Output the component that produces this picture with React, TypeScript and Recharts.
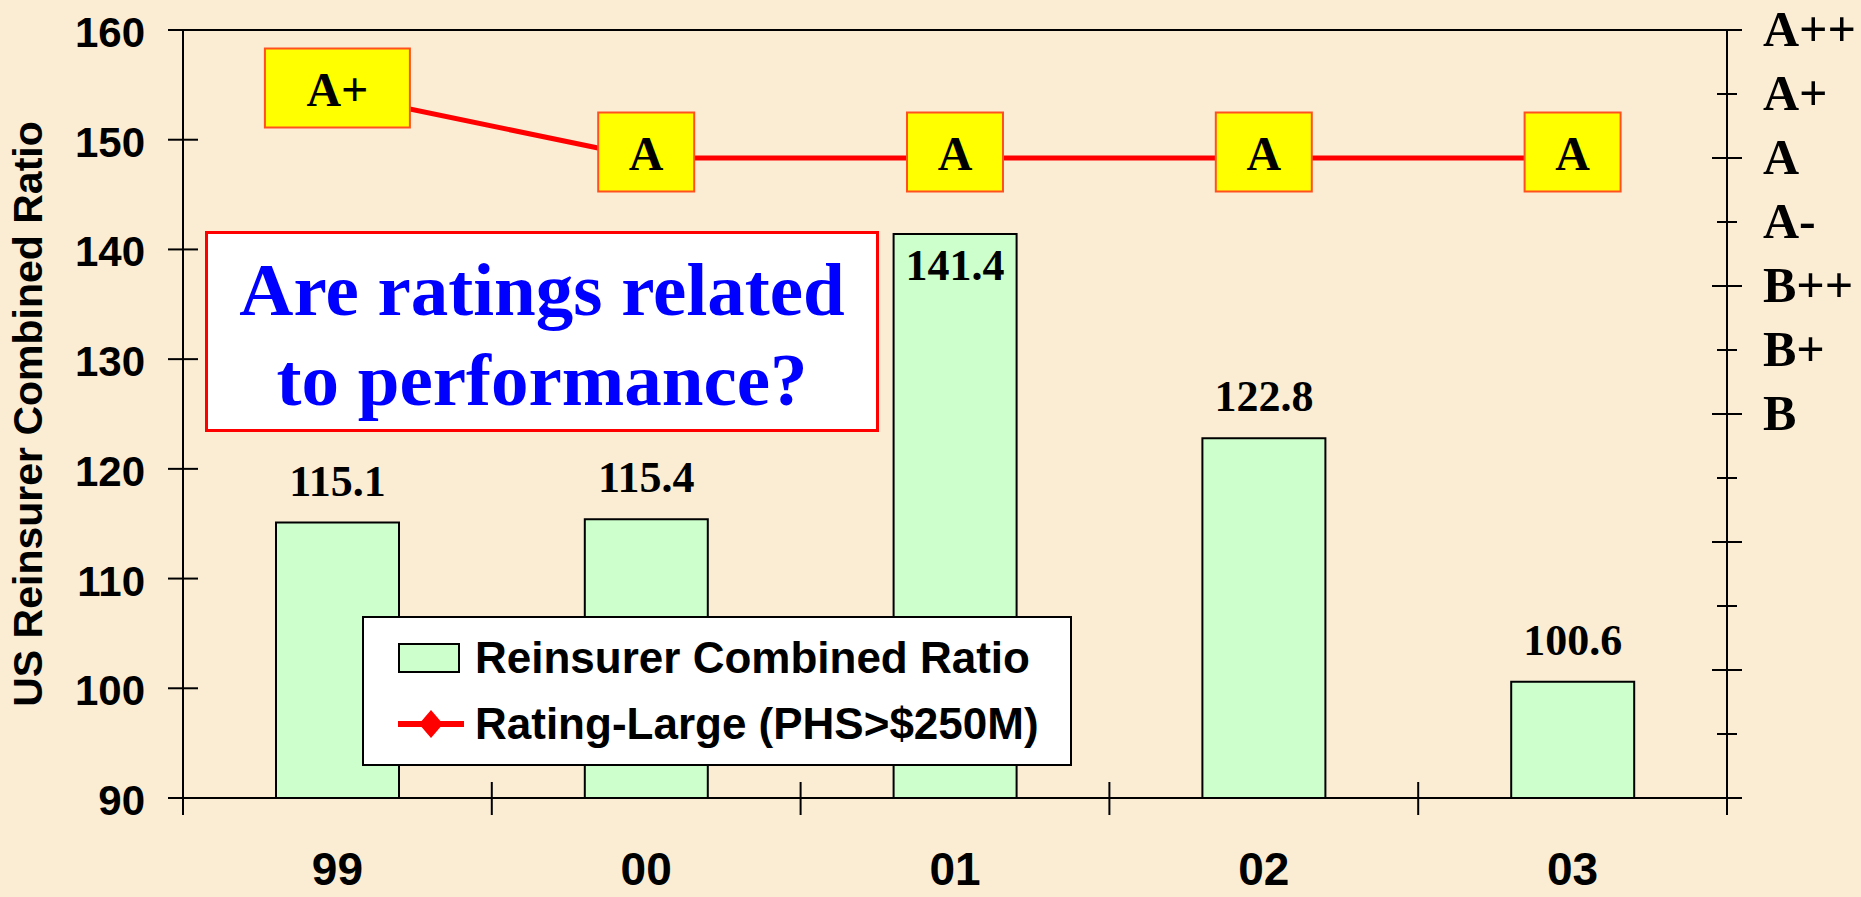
import React from 'react';
import { ComposedChart, Bar, Line, XAxis, YAxis, LabelList, Legend, ReferenceLine } from 'recharts';

// ---- data ----
const years = ['99', '00', '01', '02', '03'];
const combinedRatio = [115.1, 115.4, 141.4, 122.8, 100.6];
const ratings = ['A+', 'A', 'A', 'A', 'A'];
const ratingScale = ['', '', '', '', '', '', 'B', 'B+', 'B++', 'A-', 'A', 'A+', 'A++'];
const leftTicks = [90, 100, 110, 120, 130, 140, 150, 160];
const rightTicks = ratingScale.map((_, i) => i);
const barName = 'Reinsurer Combined Ratio';
const lineName = 'Rating-Large (PHS>$250M)';
const yTitle = 'US Reinsurer Combined Ratio';
const calloutLines = ['Are ratings related', 'to performance?'];

const data = years.map((year, i) => ({
  year,
  ratio: combinedRatio[i],
  rating: ratingScale.indexOf(ratings[i]),
}));

// ---- layout / style ----
const W = 1861;
const H = 897;
const LEFT_W = 183;
const RIGHT_W = 134;
const TOP = 30;
const X_H = 99;
const BAND = (W - LEFT_W - RIGHT_W) / years.length;
const SANS = '"Liberation Sans", Arial, sans-serif';
const SERIF = '"Liberation Serif", "Times New Roman", serif';
const BG = '#FAEDD4';
const BAR_FILL = '#CCFFCC';
const LINE_RED = '#FF0000';

const LeftTick = (p: any) => {
  const { x, y, payload } = p;
  return (
    <g>
      <line x1={x - 15} x2={x + 15} y1={y} y2={y} stroke="#000" strokeWidth={2} />
      <text x={x - 38} y={y + 17} textAnchor="end" fontFamily={SANS} fontWeight="bold" fontSize={42} fill="#000">
        {payload.value}
      </text>
    </g>
  );
};

const RightTick = (p: any) => {
  const { x, y, payload } = p;
  const v = payload.value;
  const len = v % 2 === 0 ? 15 : 10;
  const lab = ratingScale[v];
  return (
    <g>
      <line x1={x - len} x2={x + len} y1={y} y2={y} stroke="#000" strokeWidth={2} />
      {lab ? (
        <text x={x + 36} y={y + 16} textAnchor="start" fontFamily={SERIF} fontWeight="bold" fontSize={50} fill="#000">
          {lab}
        </text>
      ) : null}
    </g>
  );
};

const XTick = (p: any) => {
  const { x, y, payload, index } = p;
  return (
    <g>
      {index === 0 ? (
        <line x1={x - BAND / 2} x2={x - BAND / 2} y1={y - 16} y2={y + 17} stroke="#000" strokeWidth={2} />
      ) : null}
      <line x1={x + BAND / 2} x2={x + BAND / 2} y1={y - 16} y2={y + 17} stroke="#000" strokeWidth={2} />
      <text x={x} y={y + 87} textAnchor="middle" fontFamily={SANS} fontWeight="bold" fontSize={46} fill="#000">
        {payload.value}
      </text>
    </g>
  );
};

const BarValueLabel = (p: any) => {
  const { x, y, width, value } = p;
  // the tallest bar's label sits inside the bar (it would run into the rating boxes)
  const inside = Number(value) > 140;
  return (
    <text
      x={Number(x) + Number(width) / 2}
      y={inside ? Number(y) + 46 : Number(y) - 27}
      textAnchor="middle"
      fontFamily={SERIF}
      fontWeight="bold"
      fontSize={44}
      fill="#000"
    >
      {Number(value).toFixed(1)}
    </text>
  );
};

const RatingBox = (p: any) => {
  const px = p.viewBox && p.viewBox.x != null ? p.viewBox.x : p.x;
  const py = p.viewBox && p.viewBox.y != null ? p.viewBox.y : p.y;
  const label = ratingScale[Number(p.value)] || '';
  const w = 96 + 49 * (label.length - 1);
  const h = 79;
  const cy = Number(py) - 6;
  return (
    <g>
      <rect x={Number(px) - w / 2} y={cy - h / 2} width={w} height={h} fill="#FFFF00" stroke="#FF5020" strokeWidth={2} />
      <text x={Number(px)} y={cy + 18} textAnchor="middle" fontFamily={SERIF} fontWeight="bold" fontSize={48} fill="#000">
        {label}
      </text>
    </g>
  );
};

const LegendBox = () => {
  const rows = [
    { name: barName, kind: 'rect' },
    { name: lineName, kind: 'line' },
  ];
  return (
    <div
      style={{
        width: 710,
        height: 150,
        boxSizing: 'border-box',
        border: '2px solid #000',
        background: '#fff',
        display: 'flex',
        flexDirection: 'column',
        justifyContent: 'space-evenly',
        paddingLeft: 34,
      }}
    >
      {rows.map((r) => (
        <div key={r.name} style={{ display: 'flex', alignItems: 'center', height: 50 }}>
          {r.kind === 'rect' ? (
            <div style={{ width: 62, height: 30, boxSizing: 'border-box', background: BAR_FILL, border: '2px solid #000', marginRight: 15 }} />
          ) : (
            <svg width={66} height={30} style={{ marginRight: 11, display: 'block' }}>
              <line x1={1} x2={65} y1={15} y2={15} stroke={LINE_RED} strokeWidth={6} strokeLinecap="round" />
              <polygon points="33,1 45,15 33,29 21,15" fill={LINE_RED} />
            </svg>
          )}
          <span style={{ fontFamily: SANS, fontWeight: 'bold', fontSize: 44, color: '#000', whiteSpace: 'nowrap', lineHeight: 1 }}>
            {r.name}
          </span>
        </div>
      ))}
    </div>
  );
};

const YTitle = (lp: any) => {
  const vb = lp.viewBox || { x: 0, y: TOP, width: LEFT_W, height: H - TOP - X_H };
  const cx = vb.x + 28;
  const cy = vb.y + vb.height / 2;
  return (
    <text
      transform={`translate(${cx}, ${cy}) rotate(-90)`}
      textAnchor="middle"
      dominantBaseline="central"
      fontFamily={SANS}
      fontWeight="bold"
      fontSize={41}
      fill="#000"
    >
      {yTitle}
    </text>
  );
};

export default function App() {
  return (
    <div style={{ position: 'absolute', left: 0, top: 0, width: W, height: H, background: BG, overflow: 'hidden' }}>
      <ComposedChart width={W} height={H} data={data} margin={{ top: TOP, right: 0, bottom: 0, left: 0 }}>
        <XAxis
          dataKey="year"
          height={X_H}
          tickLine={false}
          tickSize={0}
          tickMargin={0}
          interval={0}
          axisLine={{ stroke: '#000', strokeWidth: 2 }}
          tick={<XTick />}
        />
        <YAxis
          yAxisId="left"
          width={LEFT_W}
          domain={[90, 160]}
          ticks={leftTicks}
          interval={0}
          tickLine={false}
          tickSize={0}
          tickMargin={0}
          axisLine={{ stroke: '#000', strokeWidth: 2 }}
          tick={<LeftTick />}
          label={YTitle}
        />
        <YAxis
          yAxisId="right"
          orientation="right"
          width={RIGHT_W}
          domain={[0, 12]}
          ticks={rightTicks}
          interval={0}
          tickLine={false}
          tickSize={0}
          tickMargin={0}
          axisLine={{ stroke: '#000', strokeWidth: 2 }}
          tick={<RightTick />}
        />
        <ReferenceLine yAxisId="left" y={160} stroke="#000" strokeWidth={2} ifOverflow="extendDomain" />
        <Legend
          layout="vertical"
          align="center"
          verticalAlign="middle"
          content={<LegendBox />}
          wrapperStyle={{ left: 362, top: 616, width: 710, height: 150 }}
        />
        <Bar
          yAxisId="left"
          dataKey="ratio"
          name={barName}
          fill={BAR_FILL}
          stroke="#000"
          strokeWidth={2}
          barSize={123}
          legendType="rect"
          isAnimationActive={false}
        >
          <LabelList dataKey="ratio" content={<BarValueLabel />} />
        </Bar>
        <Line
          yAxisId="right"
          type="linear"
          dataKey="rating"
          name={lineName}
          stroke={LINE_RED}
          strokeWidth={5}
          dot={false}
          activeDot={false}
          legendType="diamond"
          isAnimationActive={false}
        >
          <LabelList dataKey="rating" content={<RatingBox />} />
        </Line>
      </ComposedChart>
      <div
        style={{
          position: 'absolute',
          left: 205,
          top: 231,
          width: 674,
          height: 201,
          boxSizing: 'border-box',
          border: '3px solid #FF0000',
          background: '#fff',
          paddingTop: 11,
          textAlign: 'center',
          fontFamily: SERIF,
          fontWeight: 'bold',
          fontSize: 75,
          lineHeight: '90px',
          color: '#0000FF',
          whiteSpace: 'nowrap',
        }}
      >
        {calloutLines.map((l) => (
          <div key={l}>{l}</div>
        ))}
      </div>
    </div>
  );
}
